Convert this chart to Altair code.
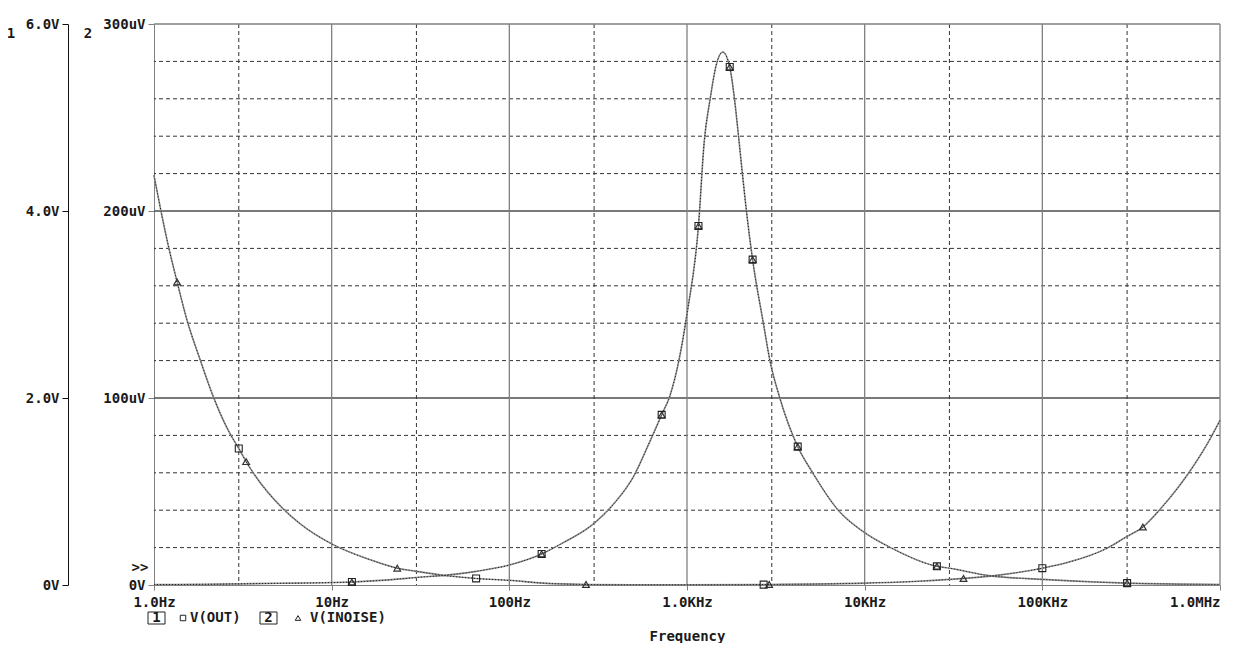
import altair as alt
import pandas as pd

# ---------------- data ----------------
# Run 1: band-pass response (peak near 1.6 kHz)
FREQ_P = [1, 2, 3, 5, 10, 13, 20, 30, 50, 65, 100, 152, 200, 300, 400, 500, 600, 720, 800, 900,
          1000, 1160, 1250, 1350, 1460, 1590, 1740, 1850, 1950, 2050, 2160, 2340, 2690, 2930, 3330,
          4200, 5100, 7100, 10000, 14000, 25500, 30000, 50000, 100000, 300000, 1000000]
OUT_P_V = [0.004, 0.008, 0.012, 0.018, 0.026, 0.032, 0.052, 0.08, 0.116, 0.146, 0.214, 0.332, 0.45,
           0.66, 0.9, 1.16, 1.48, 1.82, 2.02, 2.4, 2.9, 3.84, 4.74, 5.2, 5.56, 5.7, 5.54, 5.2, 4.8,
           4.4, 4.0, 3.48, 2.8, 2.4, 2.0, 1.48, 1.2, 0.8, 0.56, 0.4, 0.2, 0.18, 0.1, 0.06, 0.02, 0.006]
INOISE_P_UV = [0.2, 0.4, 0.6, 0.9, 1.3, 1.6, 2.6, 4.0, 5.8, 7.3, 10.7, 16.6, 22.5, 33, 45, 58, 74, 91,
               101, 120, 145, 192, 237, 260, 278, 285, 277, 260, 240, 220, 200, 174, 140, 120, 100,
               74, 60, 40, 28, 20, 10, 9, 5, 3, 1, 0.3]

# Run 2: U-shaped response (high at both ends)
FREQ_U = [1, 1.1, 1.2, 1.35, 1.53, 1.81, 2.15, 2.64, 3.0, 3.3, 3.56, 5.3, 6.6, 10, 16.5, 23.4, 30, 46,
          65, 100, 155, 270, 500, 1000, 3000, 10000, 20000, 30000, 57000, 100000, 138000, 235000,
          300000, 368000, 465000, 690000, 890000, 1000000]
OUT_U_V = [4.38, 3.98, 3.64, 3.24, 2.84, 2.42, 2.02, 1.64, 1.46, 1.32, 1.22, 0.82, 0.66, 0.44, 0.27,
           0.18, 0.146, 0.096, 0.07, 0.05, 0.02, 0.006, 0.002, 0.002, 0.006, 0.02, 0.04, 0.06, 0.106,
           0.18, 0.24, 0.4, 0.52, 0.62, 0.82, 1.24, 1.58, 1.76]
INOISE_U_UV = [219, 199, 182, 162, 142, 121, 101, 82, 73, 66, 61, 41, 33, 22, 13.5, 9, 7.3, 4.8, 3.5,
               2.5, 1, 0.3, 0.1, 0.1, 0.3, 1, 2, 3, 5.3, 9, 12, 20, 26, 31, 41, 62, 79, 88]

# trace markers
SQ_F = [13, 152, 720, 1160, 1740, 2340, 4200, 25500, 300000, 3.0, 65, 2700, 100000]
SQ_V = [0.032, 0.332, 1.82, 3.84, 5.54, 3.48, 1.48, 0.2, 0.02, 1.46, 0.07, 0.004, 0.18]
TRI_F = [13, 152, 720, 1160, 1740, 2340, 4200, 25500, 300000, 1.35, 3.3, 23.4, 270, 2900, 36000, 368000]
TRI_UV = [1.6, 16.6, 91, 192, 277, 174, 74, 10, 1, 162, 66, 9, 0.3, 0.3, 3.5, 31]

# axes / grid
X_TICKS = [1, 10, 100, 1000, 10000, 100000, 1000000]
X_LABELS = ["1.0Hz", "10Hz", "100Hz", "1.0KHz", "10KHz", "100KHz", "1.0MHz"]
Y1_TICKS = [0, 2, 4, 6]
Y1_LABELS = ["0V", "2.0V", "4.0V", "6.0V"]
Y2_TICKS = [0, 100, 200, 300]
Y2_LABELS = ["0V", "100uV", "200uV", "300uV"]
GRID_H_DASH = [20, 40, 60, 80, 120, 140, 160, 180, 220, 240, 260, 280]
GRID_H_SOLID = [100, 200]
GRID_V_DASH = [3, 30, 300, 3000, 30000, 300000]
GRID_V_SOLID = [10, 100, 1000, 10000, 100000]
FRAME_TOP = [300]
FRAME_RIGHT = [1000000]

FONT = "DejaVu Sans Mono"
FS = 14
TXT = "#1a1a1a"
GRAY = "#808080"


def arr_expr(labels, idx):
    return "[" + ",".join("'%s'" % s for s in labels) + "][" + idx + "]"


x_scale = alt.Scale(type="log", domain=[1, 1000000], nice=False)
x_axis = alt.Axis(values=X_TICKS, labelExpr=arr_expr(X_LABELS, "round(log(datum.value)/LN10)"),
                  grid=False, domainColor=GRAY, tickColor=GRAY, tickSize=5, labelFlush=False,
                  labelAlign={"condition": {"test": "datum.value >= 1000000", "value": "right"},
                              "value": "center"},
                  labelFont=FONT, labelFontSize=FS, labelFontWeight="bold", labelColor=TXT,
                  labelPadding=5, title="Frequency", titleFont=FONT, titleFontSize=FS,
                  titleFontWeight="bold", titleColor=TXT, titlePadding=20)

y1_scale = alt.Scale(domain=[0, 6], nice=False)
y1_axis = alt.Axis(values=Y1_TICKS, labelExpr=arr_expr(Y1_LABELS, "round(datum.value/2)"),
                   orient="left", offset=86, grid=False, domainColor="#111", tickColor="#111",
                   tickSize=6, labelPadding=3, labelFont=FONT, labelFontSize=FS,
                   labelFontWeight="bold", labelColor=TXT, title=None)

y2_scale = alt.Scale(domain=[0, 300], nice=False)
y2_axis = alt.Axis(values=Y2_TICKS, labelExpr=arr_expr(Y2_LABELS, "round(datum.value/100)"),
                   orient="left", offset=0, grid=False, domainColor=GRAY, tickColor=GRAY,
                   tickSize=6, labelPadding=3, labelFont=FONT, labelFontSize=FS,
                   labelFontWeight="bold", labelColor=TXT, title=None)

X = lambda f: alt.X(f, scale=x_scale, axis=x_axis)
Y2 = lambda f: alt.Y(f, scale=y2_scale, axis=y2_axis)
Y1 = lambda f: alt.Y(f, scale=y1_scale, axis=y1_axis)

one = pd.DataFrame({"a": [0]})

# --- uV group (axis 2) ---
g_hd = alt.Chart(pd.DataFrame({"v": GRID_H_DASH})).mark_rule(
    color="#333", strokeDash=[4, 3], strokeWidth=1).encode(y=Y2("v:Q"))
g_hs = alt.Chart(pd.DataFrame({"v": GRID_H_SOLID})).mark_rule(
    color="#4d4d4d", strokeWidth=1.3).encode(y=Y2("v:Q"))
g_vd = alt.Chart(pd.DataFrame({"f": GRID_V_DASH})).mark_rule(
    color="#333", strokeDash=[4, 3], strokeWidth=1).encode(x=X("f:Q"))
g_vs = alt.Chart(pd.DataFrame({"f": GRID_V_SOLID})).mark_rule(
    color=GRAY, strokeWidth=1.3).encode(x=X("f:Q"))
f_top = alt.Chart(pd.DataFrame({"v": FRAME_TOP})).mark_rule(
    color=GRAY, strokeWidth=1.6).encode(y=Y2("v:Q"))
f_right = alt.Chart(pd.DataFrame({"f": FRAME_RIGHT})).mark_rule(
    color=GRAY, strokeWidth=1.3).encode(x=X("f:Q"))

noise_df = pd.DataFrame({
    "f": FREQ_P + FREQ_U,
    "v": INOISE_P_UV + INOISE_U_UV,
    "run": ["1"] * len(FREQ_P) + ["2"] * len(FREQ_U),
})
noise_line = alt.Chart(noise_df).mark_line(
    color="#8c8c8c", strokeWidth=1.6, interpolate="monotone").encode(
    x=X("f:Q"), y=Y2("v:Q"), detail="run:N")
tri = alt.Chart(pd.DataFrame({"f": TRI_F, "v": TRI_UV})).mark_point(
    shape="triangle-up", filled=False, color="#333", size=45, strokeWidth=1.2, opacity=1).encode(
    x=X("f:Q"), y=Y2("v:Q"))


def txt(s, px, py, align="center"):
    return alt.Chart(one).mark_text(font=FONT, fontSize=FS, fontWeight="bold", color=TXT,
                                    align=align, baseline="middle").encode(
        x=alt.value(px), y=alt.value(py), text=alt.value(s))


def box(x0, x1, y0, y1):
    return alt.Chart(one).mark_rect(filled=False, color="#222", strokeWidth=1).encode(
        x=alt.value(x0), x2=alt.value(x1), y=alt.value(y0), y2=alt.value(y1))


def sym(shape, px, py, size):
    return alt.Chart(one).mark_point(shape=shape, filled=False, color="#222", size=size,
                                     strokeWidth=1, opacity=1).encode(
        x=alt.value(px), y=alt.value(py))


annotations = [
    txt("1", -143, 10), txt("2", -66, 10), txt(">>", -14, 544),
    box(-6, 11, 588, 600), txt("1", 2.5, 594),
    sym("square", 29, 594, 30), txt("V(OUT)", 36, 594, "left"),
    box(106, 123, 588, 600), txt("2", 114.5, 594),
    sym("triangle-up", 144, 594, 30), txt("V(INOISE)", 156, 594, "left"),
]

uv_group = alt.layer(g_hd, g_hs, g_vd, g_vs, f_top, f_right, noise_line, tri, *annotations)

# --- V group (axis 1) ---
out_df = pd.DataFrame({
    "f": FREQ_P + FREQ_U,
    "v": OUT_P_V + OUT_U_V,
    "run": ["1"] * len(FREQ_P) + ["2"] * len(FREQ_U),
})
out_line = alt.Chart(out_df).mark_line(
    color="#1a1a1a", strokeWidth=1, strokeDash=[1, 2], interpolate="monotone").encode(
    x=X("f:Q"), y=Y1("v:Q"), detail="run:N")
sq = alt.Chart(pd.DataFrame({"f": SQ_F, "v": SQ_V})).mark_point(
    shape="square", filled=False, color="#222", size=48, strokeWidth=1.1, opacity=1).encode(
    x=X("f:Q"), y=Y1("v:Q"))

v_group = alt.layer(out_line, sq)

chart = alt.layer(uv_group, v_group).resolve_scale(y="independent").properties(
    width=1066, height=561,
    padding={"left": 146, "top": 16, "right": 10, "bottom": 58},
    autosize=alt.AutoSizeParams(type="none"),
    background="white",
).configure_view(stroke=None)

chart.save("out.html", embed_options={"renderer": "svg", "actions": False})
